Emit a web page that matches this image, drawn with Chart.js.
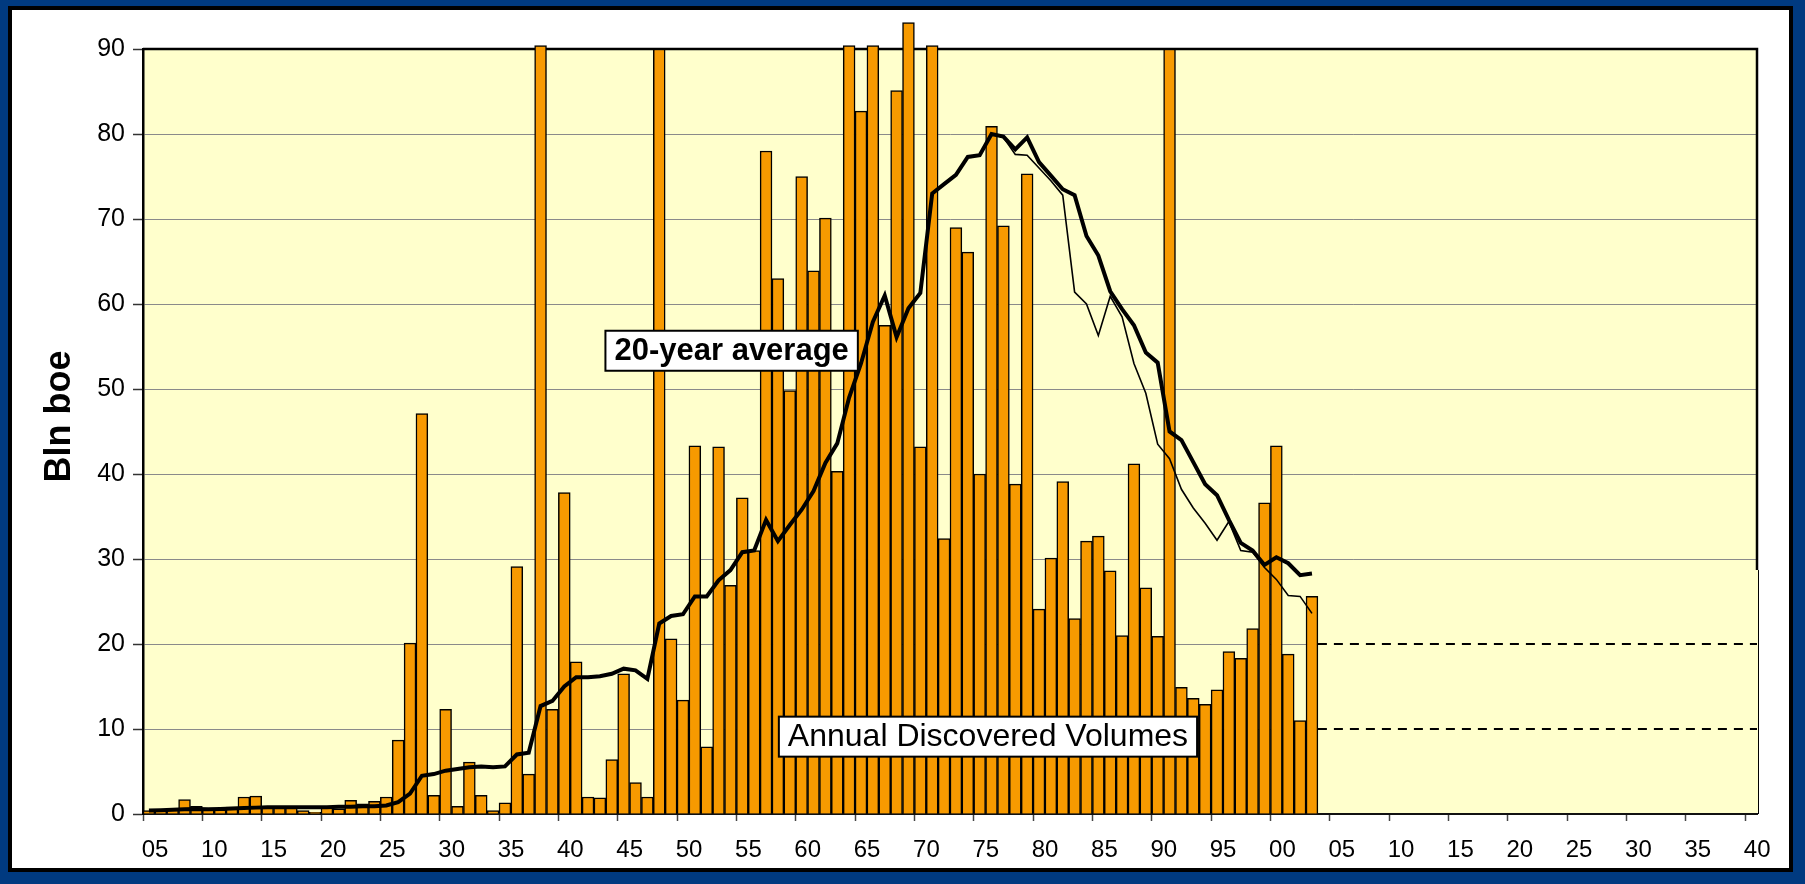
<!DOCTYPE html>
<html>
<head>
<meta charset="utf-8">
<title>Annual Discovered Volumes</title>
<script src="https://cdn.jsdelivr.net/npm/chart.js@4.4.1/dist/chart.umd.min.js"></script>
<style>
  html, body { margin: 0; padding: 0; width: 1805px; height: 884px; overflow: hidden; background: #003a80; }
  #frame { position: absolute; left: 8px; top: 6px; width: 1785px; height: 866px; box-sizing: border-box; border: 4px solid #000; background: #fff; }
  #chart { position: absolute; left: 0; top: 0; }
</style>
</head>
<body>
<div id="frame"></div>
<canvas id="chart" width="1805" height="884"></canvas>
<script>
// annual discovered volumes, Bln boe, 1905 .. 2003
const discovered = [
  0.4, 0.5, 0.6, 1.7, 0.9, 0.55, 0.5, 0.8, 2.0, 2.1,
  0.8, 0.8, 0.8, 0.4, 0.2, 0.9, 0.6, 1.6, 1.2, 1.5,
  2.0, 8.7, 20.1, 47.1, 2.2, 12.3, 0.9, 6.1, 2.2, 0.4,
  1.3, 29.1, 4.7, 90.4, 12.3, 37.8, 17.9, 2.0, 1.9, 6.4,
  16.5, 3.7, 2.0, 90.0, 20.6, 13.4, 43.3, 7.9, 43.2, 26.9,
  37.2, 31.0, 78.0, 63.0, 49.8, 75.0, 63.9, 70.1, 40.3, 90.4,
  82.7, 90.4, 57.5, 85.1, 93.1, 43.2, 90.4, 32.4, 69.0, 66.1,
  40.0, 80.9, 69.2, 38.8, 75.3, 24.1, 30.1, 39.1, 23.0, 32.1,
  32.7, 28.6, 21.0, 41.2, 26.6, 20.9, 90.0, 14.9, 13.6, 12.9,
  14.6, 19.1, 18.3, 21.8, 36.6, 43.3, 18.8, 11.0, 25.6
];

// 20-year average, 1905 .. 2003
const average20 = [
  0.4, 0.45, 0.5, 0.55, 0.6, 0.55, 0.6, 0.65, 0.7, 0.75,
  0.8, 0.8, 0.8, 0.8, 0.8, 0.8, 0.85, 0.85, 0.9, 0.9,
  1.0, 1.4, 2.4, 4.5, 4.7, 5.1, 5.3, 5.5, 5.6, 5.5,
  5.6, 7.0, 7.2, 12.7, 13.3, 15.0, 16.1, 16.1, 16.2, 16.5,
  17.1, 16.9, 15.9, 22.4, 23.3, 23.5, 25.6, 25.6, 27.5, 28.7,
  30.8, 31.0, 34.6, 32.1, 34.0, 35.8, 38.0, 41.3, 43.6, 49.0,
  53.0, 57.9, 61.0, 56.1, 59.5, 61.3, 73.0, 74.1, 75.2, 77.3,
  77.5, 80.0, 79.7, 78.2, 79.6, 76.7, 75.1, 73.5, 72.8, 68.0,
  65.7, 61.5, 59.4, 57.5, 54.3, 53.1, 45.0, 44.0, 41.4, 38.8,
  37.5, 34.6, 31.9, 31.0, 29.3, 30.2, 29.5, 28.1, 28.3
];

// thin line, 1975 .. 2003
const thinStart = 1975;
const thinLine = [
  77.5, 80.0, 79.6, 77.6, 77.5, 76.0, 74.5, 72.8, 61.4, 60.0,
  56.3, 60.9, 58.5, 53.0, 49.5, 43.5, 41.8, 38.2, 36.0, 34.2,
  32.2, 34.4, 31.0, 30.8, 29.0, 27.6, 25.7, 25.6, 23.6
];

const firstYear = 1905;
const lastTickYear = 2040;
const lastAxisYear = 2041;
const dashLevels = [20, 10];
const dashSpan = [2004, 2041];

const FONT = "'Liberation Sans', Arial, Helvetica, sans-serif";

const toPoints = (vals, start) => vals.map((v, i) => ({ x: start + i + 0.5, y: v }));

const notes = [
  { text: '20-year average', x: 1954.6, y: 54.5, bold: true, size: 31 },
  { text: 'Annual Discovered Volumes', x: 1976.2, y: 9.1, bold: false, size: 32 }
];

const plotFrame = {
  id: 'plotFrame',
  beforeDraw(chart) {
    const { ctx, chartArea: a } = chart;
    ctx.save();
    ctx.fillStyle = '#ffffcc';
    ctx.fillRect(a.left, a.top, a.right - a.left, a.bottom - a.top);
    ctx.restore();
  },
  beforeDatasetsDraw(chart) {
    const { ctx, chartArea: a, scales: { x, y } } = chart;
    const px = x.getPixelForValue(dashSpan[0]);
    const py = y.getPixelForValue(28.7);
    ctx.save();
    // the pale patch on the right hides the lower grid lines
    ctx.fillStyle = '#ffffcc';
    ctx.fillRect(px, py, a.right - px + 2, a.bottom - py - 1.5);
    ctx.strokeStyle = '#000';
    ctx.lineWidth = 2.5;
    ctx.beginPath();
    ctx.moveTo(a.left, a.top);
    ctx.lineTo(a.right, a.top);
    ctx.lineTo(a.right, py);
    ctx.stroke();
    ctx.lineWidth = 1;
    ctx.beginPath();
    ctx.moveTo(a.right + 1.5, py);
    ctx.lineTo(a.right + 1.5, a.bottom);
    ctx.stroke();
    ctx.restore();
  },
  afterDatasetsDraw(chart) {
    const { ctx, chartArea: a, scales: { x, y } } = chart;
    ctx.save();
    notes.forEach(n => {
      ctx.font = (n.bold ? 'bold ' : '') + n.size + 'px ' + FONT;
      const w = ctx.measureText(n.text).width + 18;
      const h = 40;
      const cx = x.getPixelForValue(n.x);
      const cy = y.getPixelForValue(n.y);
      ctx.fillStyle = '#fff';
      ctx.fillRect(cx - w / 2, cy - h / 2, w, h);
      ctx.strokeStyle = '#000';
      ctx.lineWidth = 2;
      ctx.strokeRect(cx - w / 2, cy - h / 2, w, h);
      ctx.fillStyle = '#000';
      ctx.textAlign = 'center';
      ctx.textBaseline = 'middle';
      ctx.fillText(n.text, cx, cy + 1);
    });

    // y axis title, sits a little above the middle of the axis
    ctx.translate(a.left - 83, (a.top + a.bottom) / 2 - 15);
    ctx.rotate(-Math.PI / 2);
    ctx.font = 'bold 36px ' + FONT;
    ctx.fillStyle = '#000';
    ctx.textAlign = 'center';
    ctx.textBaseline = 'middle';
    ctx.fillText('Bln boe', 0, 0);
    ctx.restore();
  }
};

const lineDefaults = { type: 'line', pointRadius: 0, tension: 0, fill: false, clip: false };

const datasets = [
  { ...lineDefaults, label: '20-year average', data: toPoints(average20, firstYear),
    borderColor: '#000', borderWidth: 4, order: 0 },
  { ...lineDefaults, label: 'thin', data: toPoints(thinLine, thinStart),
    borderColor: '#000', borderWidth: 1.6, order: 1 },
  ...dashLevels.map(lvl => ({
    ...lineDefaults, label: 'level ' + lvl,
    data: dashSpan.map(v => ({ x: v, y: lvl })),
    borderColor: '#000', borderWidth: 2, borderDash: [9, 7], order: 2
  })),
  { type: 'bar', label: 'Annual Discovered Volumes', data: toPoints(discovered, firstYear),
    backgroundColor: '#f79a00', borderColor: '#000', borderWidth: 1.5,
    barPercentage: 1, categoryPercentage: 1, clip: false, order: 5 }
];

new Chart(document.getElementById('chart').getContext('2d'), {
  type: 'bar',
  data: { datasets },
  plugins: [plotFrame],
  options: {
    responsive: false,
    animation: false,
    events: [],
    layout: { padding: { left: 20, top: 49, right: 48, bottom: 10 } },
    plugins: { legend: { display: false }, tooltip: { enabled: false } },
    scales: {
      x: {
        type: 'linear',
        min: firstYear,
        max: lastAxisYear,
        offset: false,
        afterBuildTicks: s => {
          const ticks = [];
          for (let v = firstYear; v <= lastTickYear; v += 5) ticks.push({ value: v });
          s.ticks = ticks;
        },
        afterFit: s => { s.height = 60; },
        ticks: {
          stepSize: 5,
          maxTicksLimit: 100,
          autoSkip: false,
          maxRotation: 0,
          labelOffset: 12,
          padding: 15,
          color: '#000',
          font: { family: FONT, size: 24 },
          callback: v => String(v % 100).padStart(2, '0')
        },
        grid: { drawOnChartArea: false, drawTicks: true, tickLength: 7, tickColor: '#444', tickWidth: 1.5, offset: false },
        border: { color: '#111', width: 2 }
      },
      y: {
        min: 0,
        max: 90,
        afterFit: s => { s.width = 123; },
        ticks: { stepSize: 10, padding: 8, color: '#000', font: { family: FONT, size: 25 } },
        grid: { color: '#8a8a8a', lineWidth: 1, tickLength: 10, tickColor: '#333', tickWidth: 1.5 },
        border: { color: '#000', width: 2.5 }
      }
    }
  }
});
</script>
</body>
</html>
